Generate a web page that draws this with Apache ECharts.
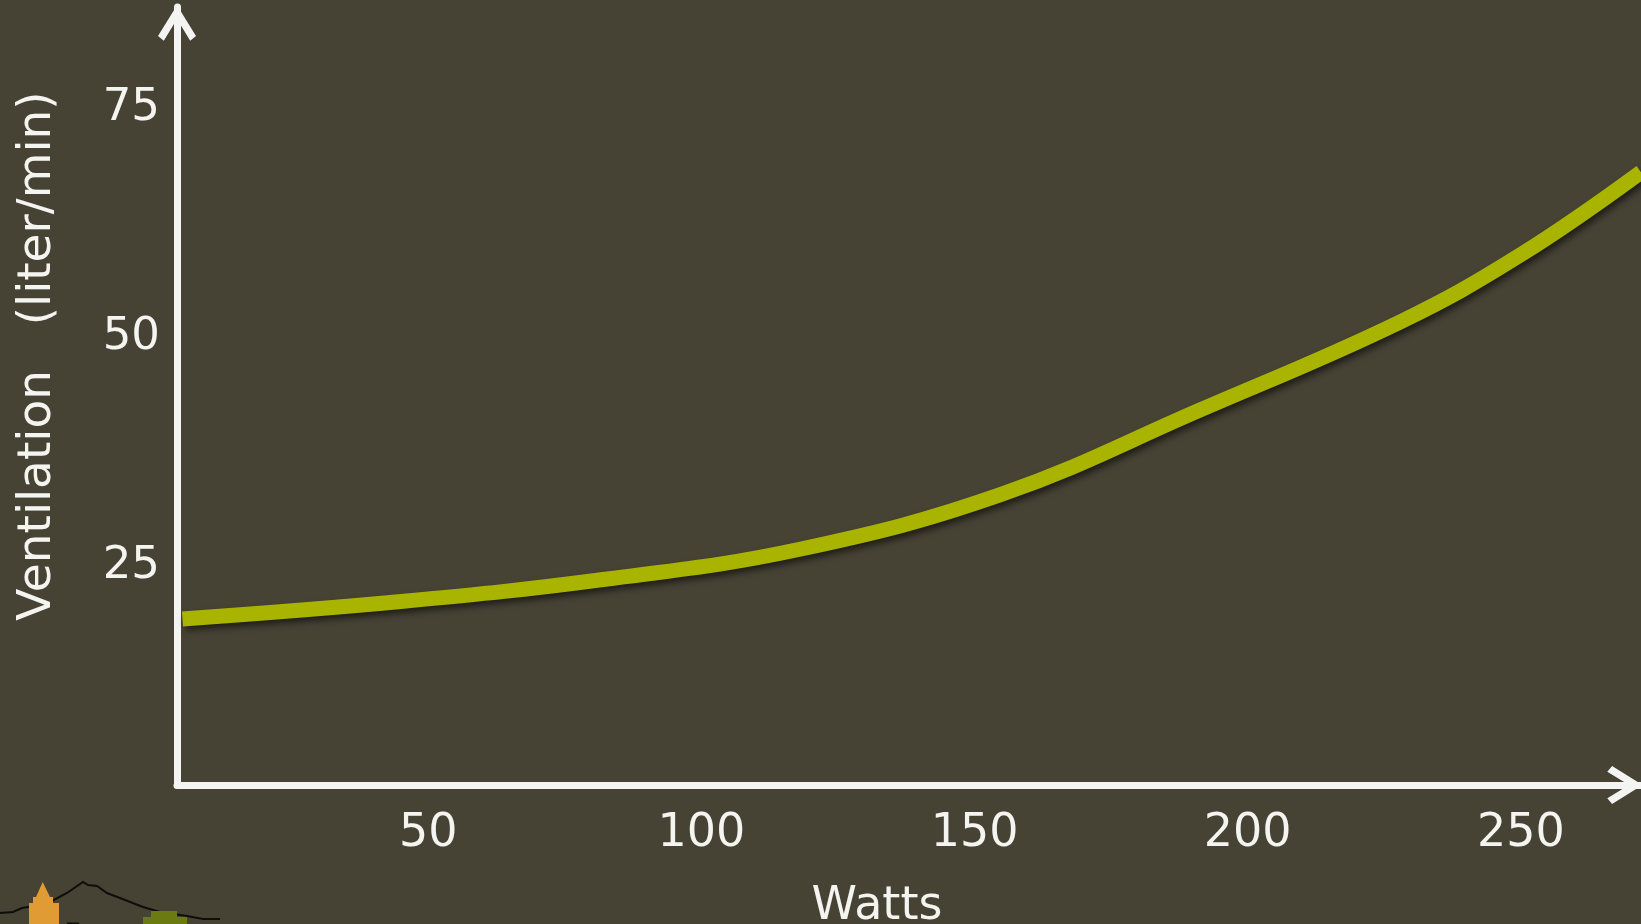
<!DOCTYPE html>
<html>
<head>
<meta charset="utf-8">
<title>Ventilation vs Watts</title>
<script src="https://cdn.jsdelivr.net/npm/echarts@6/dist/echarts.min.js"></script>
<style>
  html, body { margin: 0; padding: 0; background: #464234; }
  #chart { width: 1641px; height: 924px; }
</style>
</head>
<body>
<div id="chart"></div>
<script>
// Workload (W) and measured ventilation (L/min)
const watts = [5, 45, 82, 118, 155, 191, 228, 250, 272];
const ventilation = [19.3, 21.2, 23.6, 26.9, 32.9, 42.0, 51.7, 59.0, 68.0];

// Tick labels printed on each axis
const xTickLabels = [50, 100, 150, 200, 250];
const yTickLabels = [25, 50, 75];

const FONT = 'DejaVu Sans';
const TEXT = '#F4F4F0';
const AXIS = '#F4F4F2';
// open chevron arrow head, pointing up in its own frame
const CHEVRON = 'path://M18 0 L36 29 L30.5 33.5 L18 13 L5.5 33.5 L0 29 Z';

const points = watts.map((w, i) => [w, ventilation[i]]);

const chart = echarts.init(document.getElementById('chart'), null, { renderer: 'canvas' });

const arrowLine = {
  onZero: false,
  lineStyle: { color: AXIS, width: 7 },
  symbol: ['none', CHEVRON],
  symbolSize: [38, 36],
  symbolOffset: [0, -16]
};

chart.setOption({
  backgroundColor: '#464234',
  animation: false,
  grid: { left: 177, right: 0, top: 7, bottom: 139, outerBoundsMode: 'none', containLabel: false },
  xAxis: {
    type: 'value',
    min: 4,
    max: 272,
    axisLine: arrowLine,
    axisTick: { show: false },
    splitLine: { show: false },
    axisLabel: {
      customValues: xTickLabels,
      color: TEXT,
      fontFamily: FONT,
      fontSize: 46,
      margin: 26
    },
    name: 'Watts',
    nameLocation: 'middle',
    nameGap: 99,
    nameTextStyle: { color: TEXT, fontFamily: FONT, fontSize: 46, padding: [0, 64, 0, 0] }
  },
  yAxis: {
    type: 'value',
    min: 1.2,
    max: 86,
    axisLine: arrowLine,
    axisTick: { show: false },
    splitLine: { show: false },
    axisLabel: {
      customValues: yTickLabels,
      color: TEXT,
      fontFamily: FONT,
      fontSize: 45,
      margin: 17
    },
    name: 'Ventilation   (liter/min)',
    nameLocation: 'middle',
    nameGap: 116,
    nameRotate: 90,
    nameTextStyle: { color: TEXT, fontFamily: FONT, fontSize: 47, padding: [0, 0, 0, 80] }
  },
  series: [{
    type: 'line',
    data: points,
    smooth: 0.4,
    showSymbol: false,
    z: 3,
    lineStyle: {
      color: '#A9B400',
      width: 15,
      cap: 'butt',
      shadowColor: 'rgba(0,0,0,0.55)',
      shadowBlur: 6,
      shadowOffsetX: 3,
      shadowOffsetY: 4
    }
  }],
  // small landscape emblem in the lower-left corner
  graphic: [
    {
      type: 'polyline',
      z: 1,
      shape: {
        points: [[0, 913], [13, 912], [22, 908], [28, 907], [50, 902], [67, 893], [83, 882],
                 [88, 885], [97, 886], [107, 893], [120, 898], [143, 907], [160, 912],
                 [187, 916], [203, 919], [220, 919]]
      },
      style: { stroke: '#0E0E0A', lineWidth: 2, fill: null }
    },
    { type: 'rect', z: 2, shape: { x: 29, y: 903, width: 30, height: 21 }, style: { fill: '#E09B35' } },
    { type: 'rect', z: 2, shape: { x: 33, y: 897, width: 20, height: 7 }, style: { fill: '#E09B35' } },
    { type: 'polygon', z: 2, shape: { points: [[36, 897], [42.7, 882], [50, 897]] }, style: { fill: '#E09B35' } },
    { type: 'rect', z: 2, shape: { x: 151, y: 911, width: 26, height: 7 }, style: { fill: '#6B7B12' } },
    { type: 'rect', z: 2, shape: { x: 143, y: 917, width: 44, height: 7 }, style: { fill: '#6B7B12' } },
    { type: 'rect', z: 2, shape: { x: 67, y: 922.5, width: 12, height: 2 }, style: { fill: '#0E0E0A' } }
  ]
});
</script>
</body>
</html>
